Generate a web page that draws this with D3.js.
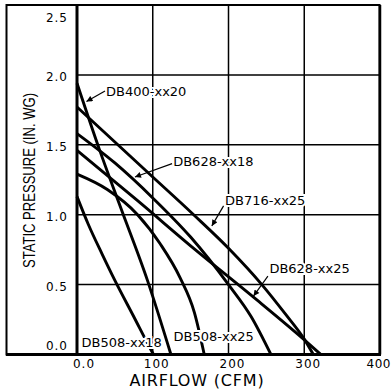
<!DOCTYPE html>
<html><head><meta charset="utf-8">
<script src="https://cdn.jsdelivr.net/npm/d3@7"></script>
<style>html,body{margin:0;padding:0;background:#fff;} svg{display:block}</style>
</head><body>
<svg id="c" width="392" height="389"></svg>
<script>
// ---- data ----
const xTicks = [0, 100, 200, 300, 400];
const xTickLabels = ["0.0", "100", "200", "300", "400"];
const yTicks = [0, 0.5, 1.0, 1.5, 2.0, 2.5];
const yTickLabels = ["0.0", "0.5", "1.0", "1.5", "2.0", "2.5"];
const gridX = [100, 200, 300];
const gridY = [0.5, 1.0, 1.5, 2.0];

const seriesNames = ["DB400-xx20", "DB716-xx25", "DB628-xx18", "DB628-xx25", "DB508-xx25", "DB508-xx18"];
const db400xx20_cfm = [0, 30, 57, 93, 124];
const db400xx20_p   = [1.94, 1.46, 1.06, 0.53, 0];
const db716xx25_cfm = [0, 50, 100, 154, 200, 244, 275, 300, 312];
const db716xx25_p   = [1.77, 1.52, 1.27, 1.0, 0.76, 0.5, 0.29, 0.11, 0];
const db628xx18_cfm = [0, 50, 100, 150, 200, 230, 256];
const db628xx18_p   = [1.58, 1.37, 1.12, 0.84, 0.5, 0.27, 0];
const db628xx25_cfm = [0, 80, 156, 233, 299, 322];
const db628xx25_p   = [1.46, 1.1, 0.75, 0.41, 0.11, 0];
const db508xx25_cfm = [0, 40, 80, 110, 136, 155, 168];
const db508xx25_p   = [1.29, 1.18, 1.0, 0.79, 0.55, 0.3, 0];
const db508xx18_cfm = [0, 15, 33, 50, 75, 96, 101];
const db508xx18_p   = [1.13, 0.93, 0.72, 0.53, 0.27, 0.05, 0];

// label annotations (data units): text start, arrow start, arrow tip
const labelText = ["DB400-xx20", "DB628-xx18", "DB716-xx25", "DB628-xx25", "DB508-xx18", "DB508-xx25"];
const labelAt   = [[38.3, 1.85], [127, 1.345], [195.4, 1.069], [254, 0.583], [6, 0.054], [127.4, 0.093]];
const arrowFrom = [[37, 1.885], [125.5, 1.365], [193.5, 1.063], [252, 0.56], null, null];
const arrowTo   = [[12.5, 1.81], [76.5, 1.27], [178, 0.92], [233, 0.418], null, null];

// ---- chart ----
const svg = d3.select("#c");
const x = d3.scaleLinear().domain([0, 400]).range([77, 380]);
const y = d3.scaleLinear().domain([0, 2.5]).range([354.5, 5]);

// frame
svg.append("rect").attr("x", 6.5).attr("y", 5).attr("width", 373).attr("height", 349.5)
  .attr("fill", "none").attr("stroke", "#000").attr("stroke-width", 2);

// grid
const g = svg.append("g");
g.selectAll(".gx").data(gridX).join("line")
  .attr("x1", d => x(d)).attr("x2", d => x(d)).attr("y1", y(2.5)).attr("y2", y(0))
  .attr("stroke", "#000").attr("stroke-width", 1.5);
g.selectAll(".gy").data(gridY).join("line")
  .attr("x1", x(0)).attr("x2", x(400)).attr("y1", d => y(d)).attr("y2", d => y(d))
  .attr("stroke", "#000").attr("stroke-width", 1.5);

// axes lines (thick)
svg.append("line").attr("x1", x(0)).attr("x2", x(0)).attr("y1", y(2.5)).attr("y2", y(0))
  .attr("stroke", "#000").attr("stroke-width", 3);
svg.append("line").attr("x1", 6).attr("x2", x(400) + 1).attr("y1", y(0)).attr("y2", y(0))
  .attr("stroke", "#000").attr("stroke-width", 3);
svg.append("line").attr("x1", x(400)).attr("x2", x(400)).attr("y1", y(2.5)).attr("y2", y(0))
  .attr("stroke", "#000").attr("stroke-width", 2.5);

// curves
const curves = [
  [db400xx20_cfm, db400xx20_p], [db716xx25_cfm, db716xx25_p], [db628xx18_cfm, db628xx18_p],
  [db628xx25_cfm, db628xx25_p], [db508xx25_cfm, db508xx25_p], [db508xx18_cfm, db508xx18_p]
];
const line = d3.line().x(d => x(d[0])).y(d => y(d[1])).curve(d3.curveMonotoneX);
svg.selectAll(".curve").data(curves).join("path")
  .attr("d", c => line(c[0].map((v, i) => [v, c[1][i]])))
  .attr("fill", "none").attr("stroke", "#000").attr("stroke-width", 2.9)
  .attr("stroke-linejoin", "round");

// tick labels
const font = "'DejaVu Sans', sans-serif";
svg.selectAll(".yl").data(yTicks).join("text")
  .attr("x", 68)
  .attr("y", d => y(d) + (d === 2.5 ? 12 : d === 0 ? -9.5 : 1.5) + 4.5)
  .attr("text-anchor", "end").attr("font-family", font).attr("font-size", 12)
  .attr("letter-spacing", 1)
  .text((d, i) => yTickLabels[i]);
svg.selectAll(".xl").data(xTicks).join("text")
  .attr("x", d => d === 400 ? 391 : x(d) + (d === 0 ? 7 : 4))
  .attr("y", 368)
  .attr("text-anchor", d => d === 400 ? "end" : "middle")
  .attr("font-family", font).attr("font-size", 12)
  .attr("letter-spacing", d => d === 400 ? 0.5 : 1)
  .text((d, i) => xTickLabels[i]);

// axis titles
svg.append("text").attr("x", 197).attr("y", 386).attr("text-anchor", "middle")
  .attr("font-family", font).attr("font-size", 16).attr("letter-spacing", 0.8)
  .text("AIRFLOW (CFM)");
svg.append("text").attr("transform", "translate(34.5,180.5) rotate(-90)")
  .attr("text-anchor", "middle").attr("font-family", "'Liberation Sans', sans-serif")
  .attr("font-size", 16.5).attr("textLength", 175).attr("lengthAdjust", "spacingAndGlyphs")
  .text("STATIC PRESSURE (IN. WG)");

// arrowhead marker
svg.append("defs").append("marker").attr("id", "ah")
  .attr("viewBox", "0 0 10 10").attr("refX", 10).attr("refY", 5)
  .attr("markerWidth", 7).attr("markerHeight", 6).attr("markerUnits", "userSpaceOnUse")
  .attr("orient", "auto")
  .append("path").attr("d", "M0,0L10,5L0,10z").attr("fill", "#000");

// curve labels with white halo
svg.selectAll(".lab").data(labelText).join("text")
  .attr("x", (d, i) => x(labelAt[i][0])).attr("y", (d, i) => y(labelAt[i][1]))
  .attr("font-family", font).attr("font-size", 13)
  .attr("stroke", "#fff").attr("stroke-width", 4).attr("paint-order", "stroke")
  .attr("fill", "#000").text(d => d);

// arrows
const arrowIdx = labelText.map((d, i) => i).filter(i => arrowFrom[i]);
svg.selectAll(".arr").data(arrowIdx).join("line")
  .attr("x1", i => x(arrowFrom[i][0])).attr("y1", i => y(arrowFrom[i][1]))
  .attr("x2", i => x(arrowTo[i][0])).attr("y2", i => y(arrowTo[i][1]))
  .attr("stroke", "#000").attr("stroke-width", 1.2).attr("marker-end", "url(#ah)");
</script>
</body></html>
